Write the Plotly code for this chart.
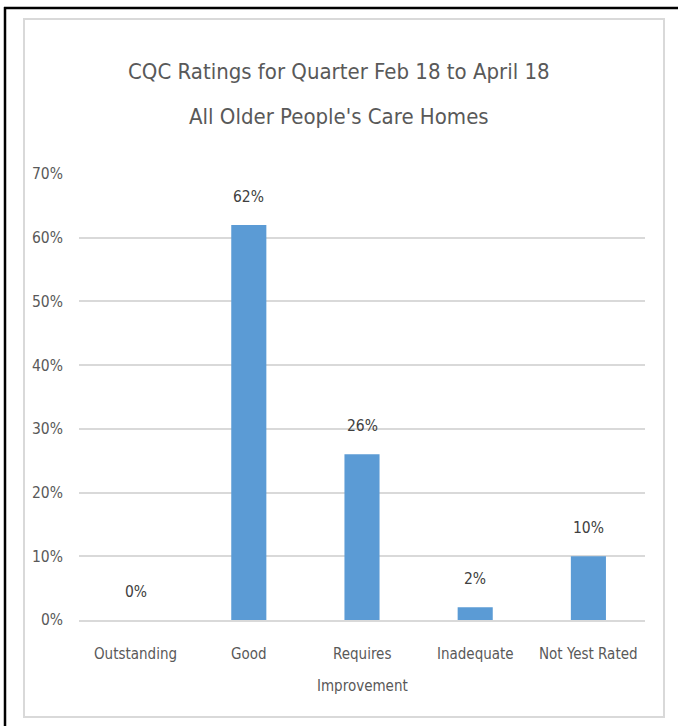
import plotly.graph_objects as go

categories = ["Outstanding", "Good", "Requires<br>Improvement", "Inadequate", "Not Yest Rated"]
values = [0.0, 0.62, 0.26, 0.02, 0.10]
labels = ["0%", "62%", "26%", "2%", "10%"]
title_lines = ["CQC Ratings for Quarter Feb 18 to April 18", "All Older People's Care Homes"]

W, H = 678, 726
L, R, T, B = 79, 645, 174, 620

FONT = "DejaVu Sans Condensed, Liberation Sans Narrow, Arial Narrow, sans-serif"
TXT = "#595959"

def px_x(p):
    return (p - L) / (R - L)

def px_y(p):
    return (B - p) / (B - T)

fig = go.Figure()
fig.add_trace(go.Bar(
    x=categories, y=values,
    marker=dict(color="#5b9bd5", line=dict(width=0)),
    hoverinfo="skip",
))

annotations = []
for c, v, t in zip(categories, values, labels):
    annotations.append(dict(
        x=c, y=v, xref="x", yref="y", text=t, showarrow=False,
        yanchor="bottom", yshift=17,
        font=dict(family=FONT, size=15.5, color="#404040"),
    ))
# category labels, one annotation per line for Excel-like line spacing
for c in categories:
    for i, part in enumerate(c.split("<br>")):
        annotations.append(dict(
            x=c, y=px_y(654 + 32 * i), xref="x", yref="paper", text=part,
            showarrow=False, xanchor="center", yanchor="middle",
            font=dict(family=FONT, size=15, color=TXT),
        ))
for line, ypx in zip(title_lines, [71, 117]):
    annotations.append(dict(
        x=px_x(W / 2), y=px_y(ypx), xref="paper", yref="paper", text=line,
        showarrow=False, xanchor="center", yanchor="middle",
        font=dict(family=FONT, size=22, color=TXT),
    ))

shapes = [
    dict(type="rect", xref="paper", yref="paper",
         x0=px_x(24), x1=px_x(664), y0=px_y(717), y1=px_y(19),
         line=dict(color="#d9d9d9", width=2), layer="below"),
    dict(type="line", xref="paper", yref="paper",
         x0=px_x(5), x1=px_x(5), y0=px_y(7), y1=px_y(730),
         line=dict(color="#000000", width=2.5)),
    dict(type="line", xref="paper", yref="paper",
         x0=px_x(4), x1=px_x(690), y0=px_y(8), y1=px_y(8),
         line=dict(color="#000000", width=2.5)),
]

fig.update_layout(
    width=W, height=H,
    margin=dict(l=L, r=W - R, t=T, b=H - B, pad=0),
    paper_bgcolor="white", plot_bgcolor="white",
    showlegend=False,
    bargap=0.69,
    annotations=annotations,
    shapes=shapes,
    font=dict(family=FONT, color=TXT),
)
fig.update_yaxes(
    range=[0, 0.7], dtick=0.1, tickformat=".0%",
    showgrid=True, gridcolor="#d9d9d9", gridwidth=1.5,
    zeroline=False, showline=False, ticks="",
    ticklabelstandoff=15,
    tickfont=dict(family=FONT, size=15.5, color=TXT),
    fixedrange=True,
)
fig.update_xaxes(
    showgrid=False, zeroline=False, ticks="",
    showline=True, linecolor="#d9d9d9", linewidth=1.5,
    showticklabels=False,
    fixedrange=True,
)

fig.write_html("out.html")
